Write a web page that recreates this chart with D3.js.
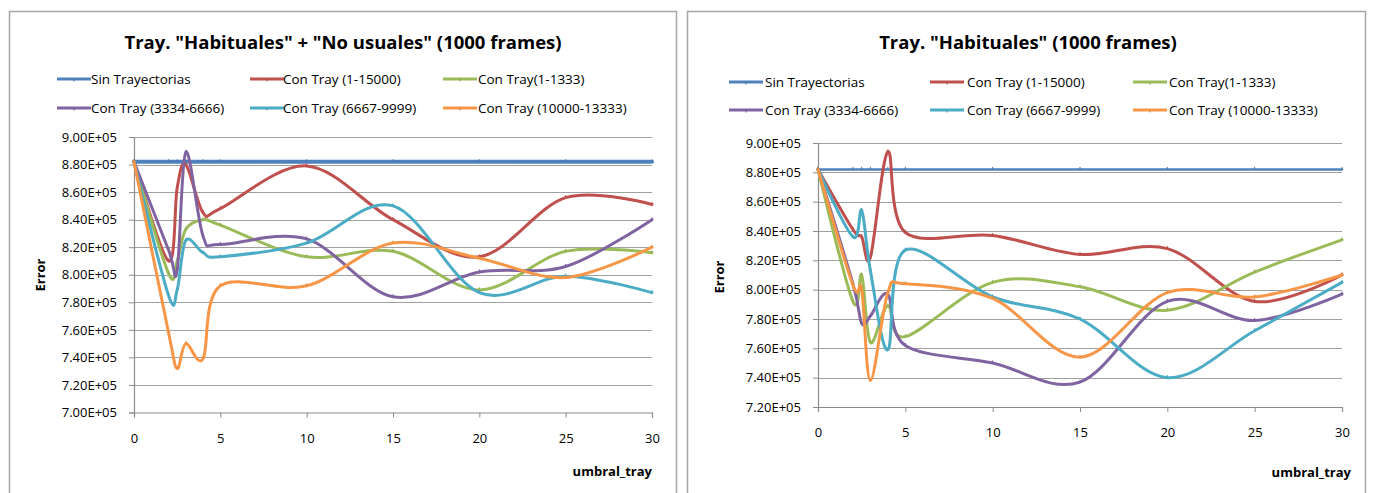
<!DOCTYPE html>
<html>
<head>
<meta charset="utf-8">
<script src="https://cdn.jsdelivr.net/npm/d3@7"></script>
<style>
  body { margin: 0; background: #fff; }
  svg { display: block; font-family: "Open Sans", Lato, sans-serif; }
</style>
</head>
<body>
<svg id="chart" width="1375" height="493"></svg>
<script>
// umbral_tray values (same for every series, both charts)
var xVals = [0, 2, 2.5, 3, 4, 5, 10, 15, 20, 25, 30];
var xTicks = [0, 5, 10, 15, 20, 25, 30];

var seriesNames = ["Sin Trayectorias", "Con Tray (1-15000)", "Con Tray(1-1333)",
                   "Con Tray (3334-6666)", "Con Tray (6667-9999)", "Con Tray (10000-13333)"];
var seriesColors = ["#4f81bd", "#c0504d", "#9bbb59", "#8064a2", "#4bacc6", "#f79646"];

// left chart: Habituales + No usuales
var leftSin    = [8.82e5, 8.82e5, 8.82e5, 8.82e5, 8.82e5, 8.82e5, 8.82e5, 8.82e5, 8.82e5, 8.82e5, 8.82e5];
var left15000  = [8.82e5, 8.10e5, 8.63e5, 8.80e5, 8.45e5, 8.48e5, 8.79e5, 8.40e5, 8.13e5, 8.56e5, 8.51e5];
var left1333   = [8.82e5, 8.01e5, 8.10e5, 8.33e5, 8.40e5, 8.36e5, 8.13e5, 8.17e5, 7.89e5, 8.17e5, 8.16e5];
var left6666   = [8.82e5, 8.18e5, 8.03e5, 8.89e5, 8.28e5, 8.22e5, 8.26e5, 7.84e5, 8.02e5, 8.06e5, 8.40e5];
var left9999   = [8.82e5, 7.85e5, 7.89e5, 8.25e5, 8.16e5, 8.13e5, 8.23e5, 8.50e5, 7.87e5, 7.99e5, 7.87e5];
var left13333  = [8.82e5, 7.58e5, 7.32e5, 7.50e5, 7.39e5, 7.92e5, 7.92e5, 8.23e5, 8.12e5, 7.98e5, 8.20e5];

// right chart: Habituales
var rightSin   = [8.82e5, 8.82e5, 8.82e5, 8.82e5, 8.82e5, 8.82e5, 8.82e5, 8.82e5, 8.82e5, 8.82e5, 8.82e5];
var right15000 = [8.82e5, 8.41e5, 8.36e5, 8.22e5, 8.94e5, 8.39e5, 8.37e5, 8.24e5, 8.28e5, 7.92e5, 8.10e5];
var right1333  = [8.82e5, 7.92e5, 8.10e5, 7.64e5, 7.89e5, 7.68e5, 8.05e5, 8.02e5, 7.86e5, 8.12e5, 8.34e5];
var right6666  = [8.82e5, 8.04e5, 7.77e5, 7.82e5, 7.97e5, 7.62e5, 7.50e5, 7.37e5, 7.92e5, 7.79e5, 7.97e5];
var right9999  = [8.82e5, 8.36e5, 8.54e5, 8.13e5, 7.59e5, 8.27e5, 7.95e5, 7.80e5, 7.40e5, 7.72e5, 8.05e5];
var right13333 = [8.82e5, 8.03e5, 8.00e5, 7.38e5, 7.98e5, 8.04e5, 7.94e5, 7.54e5, 7.98e5, 7.95e5, 8.10e5];

var leftYTicks  = [7.0e5, 7.2e5, 7.4e5, 7.6e5, 7.8e5, 8.0e5, 8.2e5, 8.4e5, 8.6e5, 8.8e5, 9.0e5];
var rightYTicks = [7.2e5, 7.4e5, 7.6e5, 7.8e5, 8.0e5, 8.2e5, 8.4e5, 8.6e5, 8.8e5, 9.0e5];

var svg = d3.select("#chart");

function fmtE(v) {
    return (v / 1e5).toFixed(2) + "E+05";
}

function drawChart(c) {
    var g = svg.append("g");

    // chart frame
    g.append("rect")
        .attr("x", c.frame[0] + 0.5).attr("y", c.frame[1] + 0.5)
        .attr("width", c.frame[2]).attr("height", c.frame[3])
        .attr("fill", "#fff").attr("stroke", "#a6a6a6").attr("stroke-width", 1.5);

    g.append("text")
        .attr("x", c.titleX).attr("y", 49)
        .attr("text-anchor", "middle")
        .attr("font-size", "18.5px").attr("font-weight", "bold")
        .attr("fill", "#000")
        .text(c.title);

    var x = d3.scaleLinear().domain([0, 30]).range([c.x0, c.x1]);
    var y = d3.scaleLinear().domain(c.yDomain).range([c.yBottom, c.yTop]);

    // gridlines
    g.append("g").selectAll("line").data(c.yTicks.slice(1)).enter().append("line")
        .attr("x1", c.x0).attr("x2", c.x1)
        .attr("y1", function(d){ return Math.round(y(d)) + 0.5; })
        .attr("y2", function(d){ return Math.round(y(d)) + 0.5; })
        .attr("stroke", "#a0a0a0").attr("stroke-width", 1.2);

    var yAxis = g.append("g")
        .attr("transform", "translate(" + c.x0 + ",0)")
        .call(d3.axisLeft(y).tickValues(c.yTicks).tickFormat(fmtE).tickSizeOuter(0).tickSize(5).tickPadding(12));
    var xAxis = g.append("g")
        .attr("transform", "translate(0," + c.yBottom + ")")
        .call(d3.axisBottom(x).tickValues(xTicks).tickSizeOuter(0).tickSize(5).tickPadding(16));

    [yAxis, xAxis].forEach(function(a){
        a.select(".domain").attr("stroke", "#8c8c8c").attr("stroke-width", 1.2);
        a.selectAll(".tick line").attr("stroke", "#8c8c8c");
        a.selectAll("text").attr("font-size", "13px").attr("fill", "#000")
            .attr("font-family", "'Open Sans', Lato, sans-serif");
    });

    g.append("text")
        .attr("transform", "translate(" + c.yLabelX + "," + c.yLabelY + ") rotate(-90)")
        .attr("text-anchor", "middle")
        .attr("font-size", "13px").attr("font-weight", "bold")
        .text("Error");

    g.append("text")
        .attr("x", c.xLabelX).attr("y", c.xLabelY)
        .attr("text-anchor", "end")
        .attr("font-size", "13px").attr("font-weight", "bold")
        .text("umbral_tray");

    var line = d3.line()
        .x(function(d){ return x(d[0]); })
        .y(function(d){ return y(d[1]); })
        .curve(d3.curveCardinal.tension(0));

    c.series.forEach(function(vals, i) {
        var pts = xVals.map(function(xv, j){ return [xv, vals[j]]; });
        g.append("path")
            .datum(pts)
            .attr("d", line)
            .attr("fill", "none")
            .attr("stroke", seriesColors[i])
            .attr("stroke-width", i === 0 ? c.blueWidth : 3)
            .attr("stroke-linejoin", "round")
            .attr("stroke-linecap", "round");
        // tiny dash markers
        g.append("g").selectAll("line").data(pts).enter().append("line")
            .attr("x1", function(d){ return x(d[0]); })
            .attr("x2", function(d){ return x(d[0]); })
            .attr("y1", function(d){ return y(d[1]) - 2.5; })
            .attr("y2", function(d){ return y(d[1]); })
            .attr("stroke", d3.color(seriesColors[i]).darker(0.3))
            .attr("stroke-width", 1);
    });

    // legend, 3 columns x 2 rows
    seriesNames.forEach(function(name, i) {
        var col = i % 3, row = Math.floor(i / 3);
        var lx = c.legLine[col], ly = c.legRows[row];
        g.append("line")
            .attr("x1", lx).attr("x2", lx + 34)
            .attr("y1", ly).attr("y2", ly)
            .attr("stroke", seriesColors[i]).attr("stroke-width", 3);
        g.append("line")
            .attr("x1", lx + 17).attr("x2", lx + 17)
            .attr("y1", ly).attr("y2", ly + 2.5)
            .attr("stroke", d3.color(seriesColors[i]).darker(0.5)).attr("stroke-width", 1);
        g.append("text")
            .attr("x", c.legText[col]).attr("y", ly + 4.8)
            .attr("font-size", "13.5px").attr("fill", "#000")
            .text(name);
    });
}

drawChart({
    frame: [9, 11, 667, 490],
    title: "Tray. \"Habituales\" + \"No usuales\" (1000 frames)",
    titleX: 343,
    x0: 134, x1: 652,
    yTop: 137, yBottom: 412.5,
    yDomain: [7.0e5, 9.0e5],
    yTicks: leftYTicks,
    yLabelX: 45, yLabelY: 275,
    xLabelX: 652, xLabelY: 476,
    blueWidth: 4,
    legLine: [57, 250, 443],
    legText: [91, 283, 478],
    legRows: [79, 108],
    series: [leftSin, left15000, left1333, left6666, left9999, left13333]
});

drawChart({
    frame: [687, 11, 678, 490],
    title: "Tray. \"Habituales\" (1000 frames)",
    titleX: 1028,
    x0: 818, x1: 1342,
    yTop: 143, yBottom: 407,
    yDomain: [7.2e5, 9.0e5],
    yTicks: rightYTicks,
    yLabelX: 724, yLabelY: 277,
    xLabelX: 1351, xLabelY: 477,
    blueWidth: 2.5,
    legLine: [729, 930, 1133],
    legText: [765, 967, 1169],
    legRows: [82, 110],
    series: [rightSin, right15000, right1333, right6666, right9999, right13333]
});
</script>
</body>
</html>
